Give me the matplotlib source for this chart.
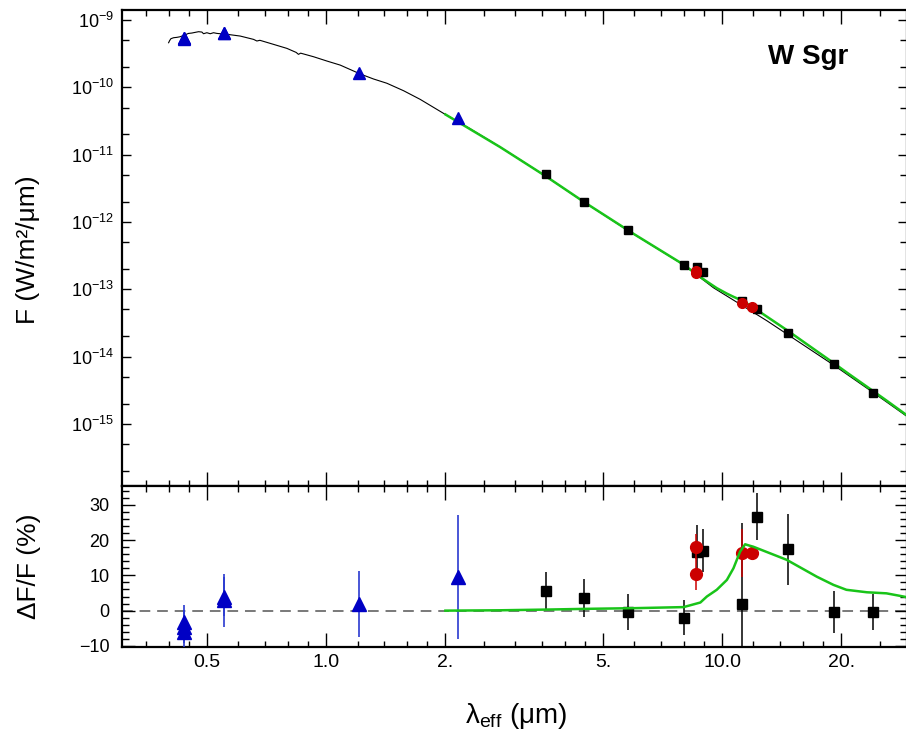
import numpy as np
import matplotlib
matplotlib.use('Agg')
import matplotlib.pyplot as plt
from matplotlib.ticker import FixedLocator, FixedFormatter, LogLocator, MultipleLocator, NullFormatter

plt.rcParams['font.family'] = ['Liberation Sans', 'DejaVu Sans']
plt.rcParams['mathtext.fontset'] = 'custom'
plt.rcParams['mathtext.rm'] = 'Liberation Sans'
plt.rcParams['mathtext.it'] = 'Liberation Sans:italic'
plt.rcParams['mathtext.bf'] = 'Liberation Sans:bold'

# photospheric model spectrum (black)
spec_wave = [0.400, 0.4022, 0.4053, 0.4117, 0.4197, 0.4279, 0.4405, 0.4491, 0.4579, 0.4668,
             0.4761, 0.4853, 0.4900, 0.4996, 0.5094, 0.5194, 0.5296, 0.5506, 0.5723, 0.6066,
             0.6554, 0.6683, 0.680, 0.7222, 0.7959, 0.840, 0.851, 0.862, 0.929, 1.004,
             1.085, 1.219, 1.317, 1.423, 1.568, 1.727, 1.979, 2.3, 2.6, 3.0,
             3.59, 4.49, 5.78, 7.99, 9.51, 12.97, 19.1, 24.0, 29.5]
spec_flux = [4.60e-10, 4.93e-10, 5.28e-10, 5.46e-10, 5.53e-10, 5.65e-10, 6.05e-10, 6.33e-10, 6.41e-10, 6.56e-10,
             6.71e-10, 6.63e-10, 6.26e-10, 6.48e-10, 6.26e-10, 6.48e-10, 6.33e-10, 6.19e-10, 6.05e-10, 5.78e-10,
             5.16e-10, 4.88e-10, 5.00e-10, 4.50e-10, 3.79e-10, 3.30e-10, 3.09e-10, 3.22e-10, 2.85e-10, 2.46e-10,
             2.14e-10, 1.58e-10, 1.33e-10, 1.15e-10, 8.91e-11, 6.63e-11, 4.10e-11, 2.46e-11, 1.59e-11, 9.38e-12,
             4.74e-12, 1.95e-12, 7.45e-13, 2.30e-13, 1.05e-13, 3.40e-14, 7.5e-15, 2.95e-15, 1.25e-15]

# dust model relative to photosphere (green), in percent
green_wave = [2.0, 2.75, 3.6, 4.5, 6.0, 7.99, 8.81, 9.15, 9.69, 10.28, 10.68, 11.10, 11.43,
              11.65, 11.99, 14.55, 17.35, 19.1, 20.6, 23.2, 26.0, 28.7, 29.5]
green_res = [0.0, 0.1, 0.3, 0.5, 0.7, 1.0, 2.3, 4.0, 5.9, 8.7, 12.0, 16.7, 18.8,
             18.5, 18.1, 14.4, 9.6, 7.3, 5.9, 5.2, 4.9, 4.0, 3.7]

# optical / near-IR photometry (blue triangles)
blue_wave = [0.438, 0.438, 0.438, 0.553, 0.553, 1.21, 2.15]
blue_flux = [5.45e-10, 5.37e-10, 5.30e-10, 6.45e-10, 6.38e-10, 1.63e-10, 3.5e-11]
blue_res = [-3.1, -4.5, -6.0, 4.0, 3.0, 1.9, 9.6]
blue_err = [4.7, 4.7, 4.7, 5.5, 7.5, 9.4, 17.5]

# infrared photometry (black squares)
sq_wave = [3.59, 4.49, 5.78, 7.99, 8.63, 8.97, 11.23, 12.24, 14.7, 19.2, 24.0]
sq_flux = [5.09e-12, 1.99e-12, 7.59e-13, 2.29e-13, 2.11e-13, 1.80e-13, 6.75e-14, 5.02e-14, 2.21e-14, 7.66e-15, 2.90e-15]
sq_res = [5.6, 3.5, -0.5, -2.0, 16.7, 17.0, 1.8, 26.6, 17.4, -0.3, -0.3]
sq_err = [5.4, 5.4, 5.1, 4.9, 7.6, 6.1, 23.0, 6.6, 10.0, 5.9, 5.1]

# spectroscopic photometry (red circles)
red_wave = [8.60, 8.60, 11.23, 11.9]
red_flux = [1.85e-13, 1.72e-13, 6.17e-14, 5.38e-14]
red_res = [18.1, 10.3, 16.4, 16.3]
red_err = [3.5, 4.5, 6.8, 2.0]

x_major = [0.5, 1.0, 2.0, 5.0, 10.0, 20.0]
x_major_labels = ['0.5', '1.0', '2.', '5.', '10.0', '20.']
x_minor = [0.35, 0.4, 0.45, 0.6, 0.7, 0.8, 0.9, 1.2, 1.4, 1.6, 1.8, 2.5, 3.0, 3.5, 4.0, 4.5,
           6.0, 7.0, 8.0, 9.0, 12.0, 14.0, 16.0, 18.0, 25.0]

BLUE = '#0000c4'
BLUE_BAR = '#2a3ad0'
RED = '#cc0000'
GREEN = '#19c419'

W, H = 906, 731
fig = plt.figure(figsize=(W / 100, H / 100), dpi=100)
ax1 = fig.add_axes([122 / W, 1 - 486 / H, 785 / W, 476 / H])
ax2 = fig.add_axes([122 / W, 1 - 647 / H, 785 / W, 161 / H], sharex=ax1)

# top panel
green_top = 10 ** np.interp(np.log10(green_wave), np.log10(spec_wave), np.log10(spec_flux)) \
    * (1 + np.array(green_res) / 100)
ax1.plot(spec_wave, spec_flux, color='k', lw=0.8, zorder=2)
ax1.plot(green_wave, green_top, color=GREEN, lw=1.8, zorder=3)
ax1.plot(sq_wave, sq_flux, 's', color='k', ms=6, zorder=4)
ax1.plot(red_wave, red_flux, 'o', color=RED, ms=7, zorder=5)
ax1.plot(blue_wave, blue_flux, '^', color=BLUE, ms=9, zorder=5)
ax1.set_xscale('log')
ax1.set_yscale('log')
ax1.set_ylim(1.19e-16, 1.41e-9)
ax1.yaxis.set_major_locator(LogLocator(base=10, numticks=20))
ax1.yaxis.set_minor_locator(LogLocator(base=10, subs=(2.0, 5.0), numticks=20))
ax1.yaxis.set_minor_formatter(NullFormatter())

# bottom panel
ax2.axhline(0, color='#555555', lw=1.1, ls=(0, (7, 4.5)), zorder=1)
ax2.plot(green_wave, green_res, color=GREEN, lw=1.8, zorder=6)
ax2.errorbar(sq_wave, sq_res, yerr=sq_err, fmt='s', color='k', ms=7.5, elinewidth=1.1,
             capsize=0, zorder=3)
ax2.errorbar(red_wave, red_res, yerr=red_err, fmt='o', color=RED, ms=8.5, elinewidth=1.1,
             capsize=0, zorder=4)
ax2.errorbar(blue_wave, blue_res, yerr=blue_err, fmt='^', color=BLUE, ecolor=BLUE_BAR, ms=10,
             elinewidth=1.2, capsize=0, zorder=4)
ax2.set_ylim(-10.3, 35.3)
ax2.yaxis.set_major_locator(MultipleLocator(10))
ax2.yaxis.set_minor_locator(MultipleLocator(2))

ax2.set_xlim(0.305, 29.3)
ax2.xaxis.set_major_locator(FixedLocator(x_major))
ax2.xaxis.set_major_formatter(FixedFormatter(x_major_labels))
ax2.xaxis.set_minor_locator(FixedLocator(x_minor))
ax2.xaxis.set_minor_formatter(NullFormatter())

for ax in (ax1, ax2):
    for sp in ax.spines.values():
        sp.set_linewidth(1.6)
    ax.tick_params(which='both', direction='in', top=True, right=True, width=1.0)
    ax.tick_params(axis='x', which='major', length=10, labelsize=14, pad=5)
    ax.tick_params(axis='x', which='minor', length=4.5)
ax1.tick_params(axis='y', which='major', length=6.5, labelsize=13, pad=6)
ax1.tick_params(axis='y', which='minor', length=5)
ax1.tick_params(axis='x', labelbottom=False)
ax2.tick_params(axis='y', which='major', length=9, labelsize=13, pad=9)
ax2.tick_params(axis='y', which='minor', length=5)

fig.text(28 / W, 1 - 250 / H, 'F (W/m²/μm)', rotation=90, ha='center', va='center', fontsize=19)
fig.text(29 / W, 1 - 566 / H, 'ΔF/F (%)', rotation=90, ha='center', va='center', fontsize=19)
fig.text(516 / W, 1 - 716 / H, r'λ$_{\mathrm{eff}}$ (μm)', ha='center', va='center', fontsize=20)
fig.text(808 / W, 1 - 57 / H, 'W Sgr', ha='center', va='center', fontsize=20, fontweight='bold')

fig.savefig('out.png', dpi=100)
